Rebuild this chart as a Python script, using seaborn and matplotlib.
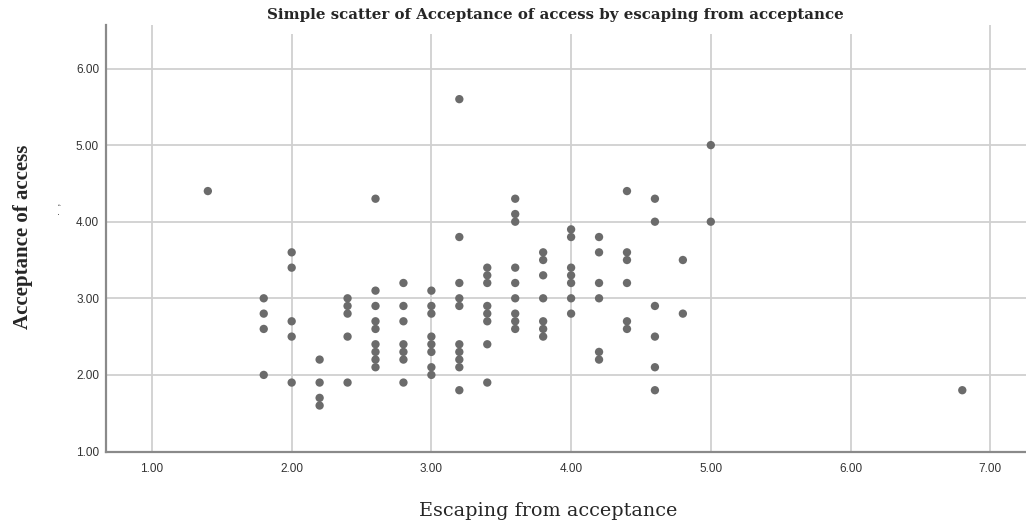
import matplotlib
matplotlib.use("Agg")
import matplotlib.pyplot as plt
import seaborn as sns
import pandas as pd

# Escaping from acceptance (x) and Acceptance of access (y), one entry per case
escaping = [1.4,
            1.8, 1.8, 1.8, 1.8,
            2.0, 2.0, 2.0, 2.0, 2.0,
            2.2, 2.2, 2.2, 2.2,
            2.4, 2.4, 2.4, 2.4, 2.4,
            2.6, 2.6, 2.6, 2.6, 2.6, 2.6, 2.6, 2.6, 2.6,
            2.8, 2.8, 2.8, 2.8, 2.8, 2.8, 2.8,
            3.0, 3.0, 3.0, 3.0, 3.0, 3.0, 3.0, 3.0,
            3.2, 3.2, 3.2, 3.2, 3.2, 3.2, 3.2, 3.2, 3.2, 3.2,
            3.4, 3.4, 3.4, 3.4, 3.4, 3.4, 3.4, 3.4,
            3.6, 3.6, 3.6, 3.6, 3.6, 3.6, 3.6, 3.6, 3.6,
            3.8, 3.8, 3.8, 3.8, 3.8, 3.8, 3.8,
            4.0, 4.0, 4.0, 4.0, 4.0, 4.0, 4.0,
            4.2, 4.2, 4.2, 4.2, 4.2, 4.2,
            4.4, 4.4, 4.4, 4.4, 4.4, 4.4,
            4.6, 4.6, 4.6, 4.6, 4.6, 4.6,
            4.8, 4.8,
            5.0, 5.0,
            6.8]
acceptance = [4.4,
              3.0, 2.8, 2.6, 2.0,
              3.6, 3.4, 2.7, 2.5, 1.9,
              2.2, 1.9, 1.7, 1.6,
              3.0, 2.9, 2.8, 2.5, 1.9,
              4.3, 3.1, 2.9, 2.7, 2.6, 2.4, 2.3, 2.2, 2.1,
              3.2, 2.9, 2.7, 2.4, 2.3, 2.2, 1.9,
              3.1, 2.9, 2.8, 2.5, 2.4, 2.3, 2.1, 2.0,
              5.6, 3.8, 3.2, 3.0, 2.9, 2.4, 2.3, 2.2, 2.1, 1.8,
              3.4, 3.3, 3.2, 2.9, 2.8, 2.7, 2.4, 1.9,
              4.3, 4.1, 4.0, 3.4, 3.2, 3.0, 2.8, 2.7, 2.6,
              3.6, 3.5, 3.3, 3.0, 2.7, 2.6, 2.5,
              3.9, 3.8, 3.4, 3.3, 3.2, 3.0, 2.8,
              3.8, 3.6, 3.2, 3.0, 2.3, 2.2,
              4.4, 3.6, 3.5, 3.2, 2.7, 2.6,
              4.3, 4.0, 2.9, 2.5, 2.1, 1.8,
              3.5, 2.8,
              5.0, 4.0,
              1.8]
x_ticks = [1, 2, 3, 4, 5, 6, 7]
y_ticks = [1, 2, 3, 4, 5, 6]

df = pd.DataFrame({"Escaping": escaping, "Acceptance": acceptance})

sns.set_style("white")
plt.rcParams["font.family"] = ["Liberation Sans", "DejaVu Sans"]

fig = plt.figure(figsize=(10.26, 5.22), dpi=100)
ax = fig.add_axes([106 / 1026, 70.5 / 522, 920 / 1026, 426.5 / 522])

sns.scatterplot(data=df, x="Escaping", y="Acceptance", ax=ax,
                color="#6b6b6b", s=36, edgecolor="none", zorder=3)

ax.set_xlim(0.671, 7.256)
ax.set_ylim(1.0, 6.568)
ax.set_xticks(x_ticks)
ax.set_yticks(y_ticks)
ax.set_xticklabels([f"{t:.2f}" for t in x_ticks])
ax.set_yticklabels([f"{t:.2f}" for t in y_ticks])
ax.tick_params(axis="both", length=0, labelsize=8.5, labelcolor="#333333")
ax.tick_params(axis="y", pad=5)
ax.tick_params(axis="x", pad=8)
ax.grid(True, color="#d0d0d0", linewidth=1.3)
ax.set_axisbelow(True)
for side in ["top", "right"]:
    ax.spines[side].set_visible(False)
for side in ["left", "bottom"]:
    ax.spines[side].set_color("#8a8a8a")
    ax.spines[side].set_linewidth(1.6)

ax.set_xlabel("")
ax.set_ylabel("")

fig.text(555 / 1026, 1 - 15 / 522,
         "Simple scatter of Acceptance of access by escaping from acceptance",
         ha="center", va="center", fontsize=10.8, fontweight="bold",
         family=["DejaVu Serif"],
         bbox=dict(facecolor="white", edgecolor="none", boxstyle="square,pad=0.8"))
fig.text(548 / 1026, 1 - 511 / 522, "Escaping from acceptance",
         ha="center", va="center", fontsize=13.8,
         family=["DejaVu Serif"])
fig.text(23 / 1026, 1 - 237 / 522, "Acceptance of access",
         ha="center", va="center", fontsize=15, fontweight="bold", rotation=90,
         family=["Liberation Serif", "DejaVu Serif"])
fig.text(57 / 1026, 1 - 209 / 522, ".  ,", ha="center", va="center",
         fontsize=8, rotation=90, color="#333333")

fig.savefig("out.png", dpi=100)
